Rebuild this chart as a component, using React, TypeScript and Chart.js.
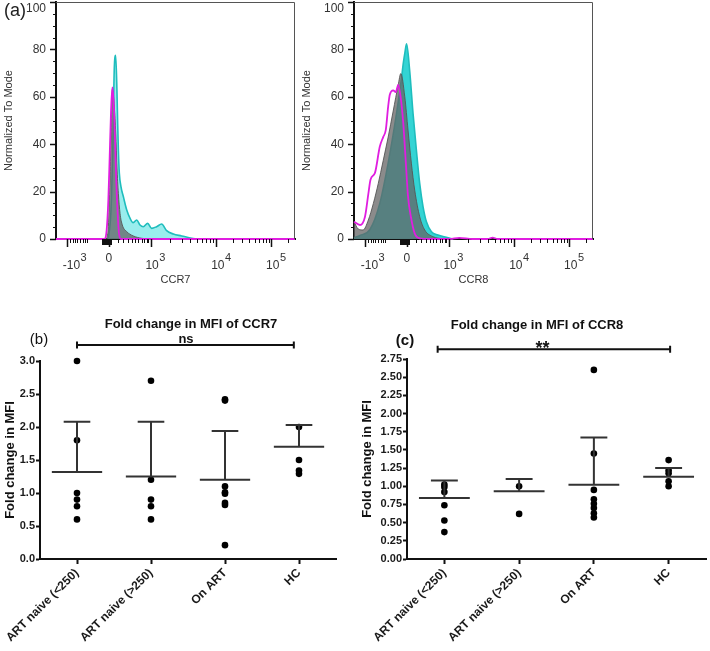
import React, { useEffect, useRef } from "react";
import { Chart, registerables } from "chart.js";

Chart.register(...registerables);

const FONT = "'Liberation Sans', Arial, Helvetica, sans-serif";

// ===== Panel (a): flow histograms (x = display channel 0-1000, y = % of mode) =====
const ccr7CyanX = [219, 230, 238, 244, 249.7, 255, 258, 261, 265, 272, 282, 296, 310, 323, 337.5, 351.5, 365, 383.5, 400, 421, 442, 463, 491, 526, 568, 589];
const ccr7CyanY = [0, 12, 40, 72.5, 77.5, 62.7, 48.7, 37.5, 27.7, 22, 17.8, 12.2, 8.7, 6.9, 8, 5.9, 5.2, 6.6, 4.5, 5.2, 6.3, 3.5, 2.1, 1.3, 0.3, 0];
const ccr7GrayX = [212, 219, 226, 230, 233, 235.7, 244, 250, 255, 261, 268, 277.5, 296, 323, 358.5, 386];
const ccr7GrayY = [0, 5.2, 24.8, 41.7, 55.7, 63, 55.7, 44.5, 30.4, 19.2, 10.8, 5.9, 3.1, 1.3, 0.3, 0];
const ccr7MagentaX = [0, 202, 212, 219, 224.6, 230, 235.7, 241, 247, 252, 258, 263.6, 272, 1000];
const ccr7MagentaY = [0, 0, 3.8, 16.4, 34.7, 53, 64, 58.5, 41.7, 24.8, 10.8, 2.4, 0, 0];

const ccr8CyanX = [0, 25, 67, 108, 143, 178, 199, 206, 213, 220, 233, 247, 261, 275, 289, 303, 324, 351, 386, 414];
const ccr8CyanY = [0.5, 1.5, 4, 15, 32, 53, 68, 74, 78.6, 82.4, 71, 53, 37.5, 23.4, 13.6, 7.3, 3.1, 1.7, 0.7, 0];
const ccr8GrayX = [0, 18, 38, 60, 81, 101.5, 122, 143, 164, 185, 196, 212.5, 226, 240, 254, 275, 296, 330, 371];
const ccr8GrayY = [7.3, 4.2, 3.8, 8, 15, 23.4, 33, 43, 54, 65, 69.8, 60, 46, 32, 20.6, 9.4, 3.8, 1, 0];
const ccr8MagentaX = [0, 25, 46, 60, 69, 88, 108, 122, 133, 143, 150, 164, 175, 185, 195, 206, 217, 226, 238, 254, 275, 317, 400, 440, 496, 560, 580, 600, 1000];
const ccr8MagentaY = [7.3, 5.9, 9.4, 19, 25, 28, 39, 43, 46, 56, 61, 62.7, 62, 65, 60, 49, 32, 18, 9.4, 2.4, 0.3, 0, 0, 0.5, 0, 0, 0.6, 0, 0];

const histYTicks = [0, 20, 40, 60, 80, 100];
const histYMinorTicks = [5, 10, 15, 25, 30, 35, 45, 50, 55, 65, 70, 75, 85, 90, 95];
const histXMajorTicks = [45, 220, 397, 670, 901];
const histXMinorTicks = [59, 70, 80, 89, 100, 112, 121, 131, 261, 282, 303, 317, 331, 345, 358, 368, 379, 386, 479, 527, 561, 588, 609, 628, 644, 657, 740, 780, 809, 831, 850, 865, 879, 890, 970];
const histXZeroTicks = [192, 196, 200, 204, 208, 212, 216, 224, 228, 232];
const histXLabelPos = [73, 221, 402, 677, 907];
const histXLabelBase = ["-10", "0", "10", "10", "10"];
const histXLabelExp = ["3", "", "3", "4", "5"];

// ===== Panels (b), (c): fold change in MFI =====
const groups = ["ART naive (<250)", "ART naive (>250)", "On ART", "HC"];

const ccr7Fold = [
  [3.0, 1.8, 1.0, 0.9, 0.8, 0.6],
  [2.7, 1.2, 0.9, 0.8, 0.6],
  [2.42, 2.4, 1.1, 1.01, 0.99, 0.85, 0.82, 0.21],
  [2.0, 1.5, 1.34, 1.29],
];
const ccr7Mean = [1.32, 1.25, 1.2, 1.7];
const ccr7SD = [0.76, 0.83, 0.74, 0.33];
const ccr7YTicks = [0, 0.5, 1.0, 1.5, 2.0, 2.5, 3.0];

const ccr8Fold = [
  [1.025, 0.99, 0.92, 0.74, 0.53, 0.37],
  [1.0, 0.62],
  [2.6, 1.45, 0.95, 0.82, 0.76, 0.7, 0.63, 0.57],
  [1.36, 1.22, 1.18, 1.07, 1.0],
];
const ccr8Mean = [0.84, 0.93, 1.02, 1.13];
const ccr8SD = [0.24, 0.17, 0.65, 0.12];
const ccr8YTicks = [0, 0.25, 0.5, 0.75, 1.0, 1.25, 1.5, 1.75, 2.0, 2.25, 2.5, 2.75];

// ===== plugins =====
const histAxesPlugin = {
  id: "histAxes",
  afterDraw(chart: any, _args: any, opts: any) {
    const { ctx, chartArea: ca, scales } = chart;
    const x = scales.x;
    const y = scales.y;
    ctx.save();
    // frame (top / right)
    ctx.strokeStyle = "#555";
    ctx.lineWidth = 1;
    ctx.beginPath();
    ctx.moveTo(ca.left, ca.top + 0.5);
    ctx.lineTo(ca.right - 0.5, ca.top + 0.5);
    ctx.lineTo(ca.right - 0.5, ca.bottom);
    ctx.stroke();

    ctx.strokeStyle = "#111";
    const xTicks = (vals: number[], len: number, w: number) => {
      ctx.lineWidth = w;
      ctx.beginPath();
      vals.forEach((v) => {
        const p = Math.round(x.getPixelForValue(v)) + 0.5;
        ctx.moveTo(p, ca.bottom);
        ctx.lineTo(p, ca.bottom + len);
      });
      ctx.stroke();
    };
    xTicks(histXMinorTicks, 4, 1);
    xTicks(histXZeroTicks, 6, 1);
    xTicks(histXMajorTicks, 8, 1.5);

    const yTicks = (vals: number[], len: number, w: number) => {
      ctx.lineWidth = w;
      ctx.beginPath();
      vals.forEach((v) => {
        const p = Math.round(y.getPixelForValue(v)) + 0.5;
        ctx.moveTo(ca.left - len, p);
        ctx.lineTo(ca.left, p);
      });
      ctx.stroke();
    };
    yTicks(histYMinorTicks, 3, 1);
    yTicks(histYTicks, 6, 1.5);

    ctx.fillStyle = "#333";
    ctx.font = `12px ${FONT}`;
    ctx.textAlign = "right";
    ctx.textBaseline = "middle";
    histYTicks.forEach((v) => {
      ctx.fillText(String(v), ca.left - 10, Math.max(y.getPixelForValue(v), ca.top + 7));
    });

    ctx.textBaseline = "alphabetic";
    histXLabelPos.forEach((v, i) => {
      const p = x.getPixelForValue(v);
      const base = histXLabelBase[i];
      const exp = histXLabelExp[i];
      ctx.font = `12px ${FONT}`;
      if (!exp) {
        ctx.textAlign = "center";
        ctx.fillText(base, p, ca.bottom + 23);
        return;
      }
      const half = ctx.measureText("10").width / 2;
      ctx.textAlign = "right";
      ctx.fillText(base, p + half, ca.bottom + 30);
      ctx.textAlign = "left";
      ctx.font = `11px ${FONT}`;
      ctx.fillText(exp, p + half + 0.5, ca.bottom + 22);
    });

    if (opts && opts.panel) {
      ctx.font = `18px ${FONT}`;
      ctx.fillStyle = "#222";
      ctx.textAlign = "center";
      ctx.fillText(opts.panel, 15, 15.5);
    }
    ctx.restore();
  },
};

const meanSdPlugin = {
  id: "meanSd",
  afterDatasetsDraw(chart: any, _args: any, opts: any) {
    const { ctx, scales } = chart;
    const x = scales.x;
    const y = scales.y;
    ctx.save();
    ctx.strokeStyle = "#333";
    ctx.lineWidth = 2;
    (opts.means as number[]).forEach((m, i) => {
      const ym = y.getPixelForValue(m);
      const yu = y.getPixelForValue(m + opts.sds[i]);
      const xc = x.getPixelForValue(i);
      ctx.beginPath();
      ctx.moveTo(x.getPixelForValue(i - 0.34), ym);
      ctx.lineTo(x.getPixelForValue(i + 0.34), ym);
      ctx.moveTo(xc, ym);
      ctx.lineTo(xc, yu);
      ctx.moveTo(x.getPixelForValue(i - 0.18), yu);
      ctx.lineTo(x.getPixelForValue(i + 0.18), yu);
      ctx.stroke();
    });
    ctx.restore();
  },
};

const foldAnnotPlugin = {
  id: "foldAnnot",
  afterDraw(chart: any, _args: any, o: any) {
    const { ctx, scales } = chart;
    const x = scales.x;
    ctx.save();
    ctx.fillStyle = "#111";
    ctx.textAlign = "center";
    ctx.textBaseline = "alphabetic";
    ctx.font = `bold 13px ${FONT}`;
    ctx.fillText(o.title, o.titleX, o.titleY);
    ctx.font = o.panelFont;
    ctx.fillText(o.panel, o.panelX, o.panelY);
    const x0 = x.getPixelForValue(o.barFrom);
    const x1 = x.getPixelForValue(o.barTo);
    ctx.strokeStyle = "#111";
    ctx.lineWidth = 2;
    ctx.beginPath();
    ctx.moveTo(x0, o.barY);
    ctx.lineTo(x1, o.barY);
    ctx.moveTo(x0, o.barY - 3.5);
    ctx.lineTo(x0, o.barY + 3.5);
    ctx.moveTo(x1, o.barY - 3.5);
    ctx.lineTo(x1, o.barY + 3.5);
    ctx.stroke();
    ctx.font = o.sigFont;
    ctx.fillText(o.sig, o.sigX, o.sigY);
    ctx.restore();
  },
};

// ===== configs =====
const pts = (xs: number[], ys: number[]) => xs.map((x, i) => ({ x, y: ys[i] }));

function histConfig(
  cx: number[], cy: number[], gx: number[], gy: number[], mx: number[], my: number[],
  cyanFill: string, xTitle: string, panel: string
): any {
  return {
    type: "line",
    data: {
      datasets: [
        { data: pts(mx, my), borderColor: "#e01ee0", borderWidth: 1.8, fill: false, pointRadius: 0, cubicInterpolationMode: "monotone", clip: false },
        { data: pts(gx, gy), borderColor: "rgba(85,85,85,0.9)", borderWidth: 1, backgroundColor: "rgba(100,100,100,0.75)", fill: "origin", pointRadius: 0, cubicInterpolationMode: "monotone", clip: false },
        { data: pts(cx, cy), borderColor: "#1fbdbd", borderWidth: 1.6, backgroundColor: cyanFill, fill: "origin", pointRadius: 0, cubicInterpolationMode: "monotone", clip: false },
      ],
    },
    options: {
      responsive: false,
      animation: false,
      events: [],
      layout: { padding: { left: 0, right: 10, top: 2, bottom: 0 } },
      plugins: { legend: { display: false }, tooltip: { enabled: false }, histAxes: { panel } },
      scales: {
        x: {
          type: "linear", min: 0, max: 1000,
          ticks: { display: false },
          grid: { display: true, drawOnChartArea: false, drawTicks: false },
          border: { display: true, color: "#111", width: 2 },
          title: { display: true, text: xTitle, color: "#333", font: { family: FONT, size: 11 }, padding: { top: 0, bottom: 13 } },
          afterFit: (s: any) => { s.height = 61; s.paddingLeft = 0; s.paddingRight = 0; },
        },
        y: {
          type: "linear", min: 0, max: 100,
          ticks: { display: false },
          grid: { display: true, drawOnChartArea: false, drawTicks: false },
          border: { display: true, color: "#111", width: 2 },
          title: { display: true, text: "Normalized To Mode", color: "#333", font: { family: FONT, size: 11 }, padding: { top: 2, bottom: 0 } },
          afterFit: (s: any) => { s.width = 56; s.paddingTop = 0; s.paddingBottom = 0; },
        },
      },
    },
    plugins: [histAxesPlugin],
  };
}

function foldConfig(
  values: number[][], means: number[], sds: number[], yTicks: number[], decimals: number,
  yWidth: number, padTop: number, padRight: number, yTitlePad: number, annot: any
): any {
  return {
    type: "scatter",
    data: {
      datasets: [
        {
          data: values.flatMap((vs, i) => vs.map((v) => ({ x: i, y: v }))),
          pointRadius: 3.3,
          pointBackgroundColor: "#000",
          pointBorderWidth: 0,
          clip: false,
        },
      ],
    },
    options: {
      responsive: false,
      animation: false,
      events: [],
      layout: { padding: { left: 0, right: padRight, top: padTop, bottom: 0 } },
      plugins: { legend: { display: false }, tooltip: { enabled: false }, meanSd: { means, sds }, foldAnnot: annot },
      scales: {
        x: {
          type: "linear", min: -0.5, max: 3.5,
          afterBuildTicks: (s: any) => { s.ticks = groups.map((_, i) => ({ value: i })); },
          ticks: {
            autoSkip: false, maxRotation: 45, minRotation: 45, padding: 2, color: "#1a1a1a",
            font: { family: FONT, size: 12, weight: "bold" },
            callback: (v: any) => groups[Math.round(Number(v))],
          },
          grid: { drawOnChartArea: false, tickLength: 5, tickWidth: 2, tickColor: "#111" },
          border: { color: "#111", width: 2 },
          afterFit: (s: any) => { s.height = 92; s.paddingLeft = 0; s.paddingRight = 0; },
        },
        y: {
          type: "linear", min: 0, max: yTicks[yTicks.length - 1],
          afterBuildTicks: (s: any) => { s.ticks = yTicks.map((v) => ({ value: v })); },
          ticks: {
            padding: 1, color: "#1a1a1a",
            font: { family: FONT, size: 11, weight: "bold" },
            callback: (v: any) => Number(v).toFixed(decimals),
          },
          grid: { drawOnChartArea: false, tickLength: 4, tickWidth: 2, tickColor: "#111" },
          border: { color: "#111", width: 2 },
          title: { display: true, text: "Fold change in MFI", color: "#111", font: { family: FONT, size: 13, weight: "bold" }, padding: { top: yTitlePad, bottom: 0 } },
          afterFit: (s: any) => { s.width = yWidth; s.paddingTop = 0; s.paddingBottom = 0; },
        },
      },
    },
    plugins: [meanSdPlugin, foldAnnotPlugin],
  };
}

function ChartBox(props: { left: number; top: number; width: number; height: number; make: () => any }) {
  const ref = useRef<HTMLCanvasElement>(null);
  useEffect(() => {
    const chart = new Chart(ref.current as HTMLCanvasElement, props.make());
    return () => chart.destroy();
  }, []);
  return (
    <canvas
      ref={ref}
      width={props.width}
      height={props.height}
      style={{ position: "absolute", left: props.left, top: props.top, width: props.width, height: props.height }}
    />
  );
}

export default function App() {
  return (
    <div style={{ position: "absolute", left: 0, top: 0, width: 710, height: 651, background: "#fff", overflow: "hidden" }}>
      <ChartBox left={0} top={0} width={305} height={300}
        make={() => histConfig(ccr7CyanX, ccr7CyanY, ccr7GrayX, ccr7GrayY, ccr7MagentaX, ccr7MagentaY, "rgba(110,230,230,0.7)", "CCR7", "(a)")} />
      <ChartBox left={298} top={0} width={305} height={300}
        make={() => histConfig(ccr8CyanX, ccr8CyanY, ccr8GrayX, ccr8GrayY, ccr8MagentaX, ccr8MagentaY, "rgba(40,210,210,0.95)", "CCR8", "")} />
      <ChartBox left={0} top={300} width={340} height={351}
        make={() => foldConfig(ccr7Fold, ccr7Mean, ccr7SD, ccr7YTicks, 1, 40, 61, 4, 3, {
          title: "Fold change in MFI of CCR7", titleX: 191, titleY: 27.5,
          panel: "(b)", panelFont: `15px ${FONT}`, panelX: 39, panelY: 43.5,
          barFrom: 0, barTo: 2.93, barY: 45,
          sig: "ns", sigFont: `bold 13px ${FONT}`, sigX: 186, sigY: 43,
        })} />
      <ChartBox left={340} top={300} width={370} height={351}
        make={() => foldConfig(ccr8Fold, ccr8Mean, ccr8SD, ccr8YTicks, 2, 67, 59, 3, 20, {
          title: "Fold change in MFI of CCR8", titleX: 197, titleY: 28.5,
          panel: "(c)", panelFont: `bold 15px ${FONT}`, panelX: 65, panelY: 45,
          barFrom: -0.09, barTo: 3.02, barY: 49.3,
          sig: "**", sigFont: `bold 18px ${FONT}`, sigX: 202.5, sigY: 54,
        })} />
    </div>
  );
}
